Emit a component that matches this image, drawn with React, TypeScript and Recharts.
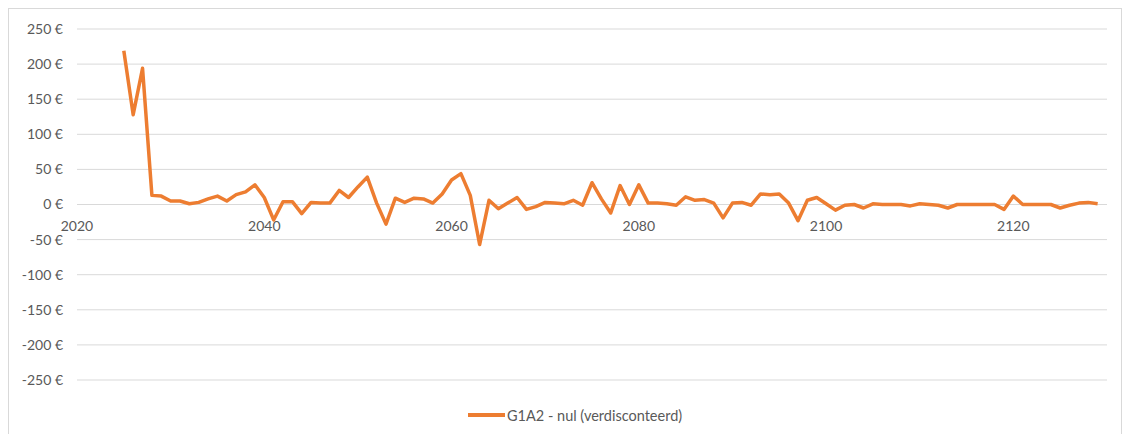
import { LineChart, Line, XAxis, YAxis, CartesianGrid, Legend } from "recharts"

// years 2025..2129
const years = [
  2025, 2026, 2027, 2028, 2029, 2030, 2031, 2032, 2033, 2034, 2035, 2036, 2037, 2038, 2039,
  2040, 2041, 2042, 2043, 2044, 2045, 2046, 2047, 2048, 2049, 2050, 2051, 2052, 2053, 2054,
  2055, 2056, 2057, 2058, 2059, 2060, 2061, 2062, 2063, 2064, 2065, 2066, 2067, 2068, 2069,
  2070, 2071, 2072, 2073, 2074, 2075, 2076, 2077, 2078, 2079, 2080, 2081, 2082, 2083, 2084,
  2085, 2086, 2087, 2088, 2089, 2090, 2091, 2092, 2093, 2094, 2095, 2096, 2097, 2098, 2099,
  2100, 2101, 2102, 2103, 2104, 2105, 2106, 2107, 2108, 2109, 2110, 2111, 2112, 2113, 2114,
  2115, 2116, 2117, 2118, 2119, 2120, 2121, 2122, 2123, 2124, 2125, 2126, 2127, 2128, 2129,
]

const g1a2Values = [
  219, 128, 194, 13, 12, 5, 5, 1, 3, 8, 12, 5, 14, 18, 28,
  10, -22, 4, 4, -13, 3, 2, 2, 20, 10, 25, 39, 2, -28, 9,
  3, 9, 8, 2, 15, 35, 44, 13, -57, 6, -6, 2, 10, -7, -3,
  3, 2, 1, 6, -1, 31, 8, -12, 27, 0, 28, 2, 2, 1, -1,
  11, 6, 7, 2, -19, 2, 3, -1, 15, 14, 15, 2, -23, 6, 10,
  1, -8, -1, 0, -5, 1, 0, 0, 0, -2, 1, 0, -1, -5, 0,
  0, 0, 0, 0, -7, 12, 0, 0, 0, 0, -5, -1, 2, 3, 1,
]

const xTicks = [2020, 2040, 2060, 2080, 2100, 2120]
const yTicks = [-250, -200, -150, -100, -50, 0, 50, 100, 150, 200, 250]
const seriesName = "G1A2 - nul (verdisconteerd)"

const data = years.map((year, i) => ({ year, value: g1a2Values[i] }))

const FONT = "Lato, 'Open Sans', sans-serif"
const TEXT = "#595959"
const W = 1112
const H = 428
const MARGIN = { top: 20, right: 14, bottom: 12, left: 8 }
const X_AXIS_H = 25
const LEGEND_H = 20
// zero line sits halfway down the plot
const PLOT_H = H - MARGIN.top - MARGIN.bottom - X_AXIS_H - LEGEND_H
const ZERO_Y = MARGIN.top + PLOT_H / 2

const YearTick = (props: any) => {
  const { x, payload } = props
  return (
    <text x={x} y={ZERO_Y + 21.5} dy="0.35em" textAnchor="middle" fill={TEXT} fontSize={14} fontFamily={FONT}>
      {payload.value}
    </text>
  )
}

const LegendContent = () => (
  <div style={{ height: LEGEND_H, display: "flex", alignItems: "center", marginLeft: 451, fontFamily: FONT, fontSize: 14.5, color: TEXT }}>
    <span style={{ display: "inline-block", width: 37, height: 3.5, background: "#ED7D31", marginRight: 2 }} />
    <span>{seriesName}</span>
  </div>
)

export default function App() {
  return (
    <div style={{ width: 1114, height: 430, border: "1px solid #d9d9d9", boxSizing: "border-box", background: "#fff" }}>
      <LineChart width={W} height={H} data={data} margin={MARGIN}>
        <CartesianGrid vertical={false} stroke="#d9d9d9" />
        <XAxis
          dataKey="year"
          type="number"
          domain={[2020, 2130]}
          ticks={xTicks}
          axisLine={false}
          tickLine={false}
          height={X_AXIS_H}
          tick={<YearTick />}
          interval={0}
        />
        <YAxis
          type="number"
          domain={[-250, 250]}
          ticks={yTicks}
          axisLine={false}
          tickLine={false}
          width={60}
          tickMargin={8}
          tick={{ fill: TEXT, fontSize: 14, fontFamily: FONT }}
          tickFormatter={(v) => `${v} €`}
        />
        <Legend verticalAlign="bottom" content={<LegendContent />} />
        <Line
          type="linear"
          dataKey="value"
          name={seriesName}
          stroke="#ED7D31"
          strokeWidth={3.5}
          strokeLinejoin="round"
          dot={false}
          isAnimationActive={false}
        />
      </LineChart>
    </div>
  )
}
